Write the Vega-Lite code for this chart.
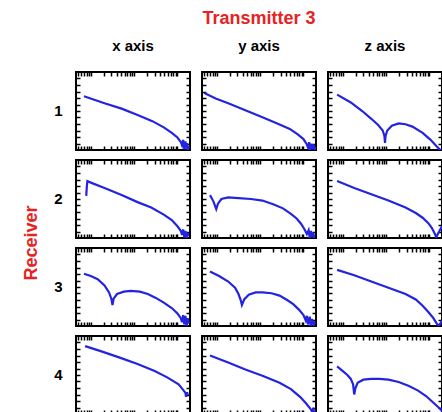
{
  "$schema": "https://vega.github.io/schema/vega-lite/v6.json",
  "background": "white",
  "padding": {"left": 22, "top": 10, "right": 0, "bottom": 0},
  "datasets": {
    "curves": [
      {"r":1,"c":"x axis","i":1,"x":0.07,"y":0.69},{"r":1,"c":"x axis","i":2,"x":0.25,"y":0.60},{"r":1,"c":"x axis","i":3,"x":0.40,"y":0.53},{"r":1,"c":"x axis","i":4,"x":0.54,"y":0.45},{"r":1,"c":"x axis","i":5,"x":0.67,"y":0.37},{"r":1,"c":"x axis","i":6,"x":0.77,"y":0.29},{"r":1,"c":"x axis","i":7,"x":0.84,"y":0.22},{"r":1,"c":"x axis","i":8,"x":0.89,"y":0.16},{"r":1,"c":"x axis","i":9,"x":0.92,"y":0.10},{"r":1,"c":"x axis","i":10,"x":0.93,"y":0.06},{"r":1,"c":"x axis","i":11,"x":0.94,"y":0.13},{"r":1,"c":"x axis","i":12,"x":0.95,"y":0.01},{"r":1,"c":"x axis","i":13,"x":0.96,"y":0.11},{"r":1,"c":"x axis","i":14,"x":0.965,"y":0.02},{"r":1,"c":"x axis","i":15,"x":0.975,"y":0.09},{"r":1,"c":"x axis","i":16,"x":0.98,"y":0.0},{"r":1,"c":"x axis","i":17,"x":0.99,"y":0.05},

      {"r":1,"c":"y axis","i":1,"x":0.02,"y":0.73},{"r":1,"c":"y axis","i":2,"x":0.12,"y":0.66},{"r":1,"c":"y axis","i":3,"x":0.23,"y":0.60},{"r":1,"c":"y axis","i":4,"x":0.38,"y":0.51},{"r":1,"c":"y axis","i":5,"x":0.53,"y":0.42},{"r":1,"c":"y axis","i":6,"x":0.66,"y":0.34},{"r":1,"c":"y axis","i":7,"x":0.77,"y":0.27},{"r":1,"c":"y axis","i":8,"x":0.84,"y":0.20},{"r":1,"c":"y axis","i":9,"x":0.89,"y":0.14},{"r":1,"c":"y axis","i":10,"x":0.92,"y":0.07},{"r":1,"c":"y axis","i":11,"x":0.93,"y":0.03},{"r":1,"c":"y axis","i":12,"x":0.94,"y":0.10},{"r":1,"c":"y axis","i":13,"x":0.95,"y":0.0},{"r":1,"c":"y axis","i":14,"x":0.96,"y":0.08},{"r":1,"c":"y axis","i":15,"x":0.97,"y":0.01},{"r":1,"c":"y axis","i":16,"x":0.98,"y":0.07},{"r":1,"c":"y axis","i":17,"x":0.99,"y":0.0},{"r":1,"c":"y axis","i":18,"x":1.0,"y":0.04},

      {"r":1,"c":"z axis","i":1,"x":0.08,"y":0.71},{"r":1,"c":"z axis","i":2,"x":0.20,"y":0.61},{"r":1,"c":"z axis","i":3,"x":0.30,"y":0.50},{"r":1,"c":"z axis","i":4,"x":0.38,"y":0.40},{"r":1,"c":"z axis","i":5,"x":0.44,"y":0.32},{"r":1,"c":"z axis","i":6,"x":0.48,"y":0.25},{"r":1,"c":"z axis","i":7,"x":0.495,"y":0.18},{"r":1,"c":"z axis","i":8,"x":0.50,"y":0.09},{"r":1,"c":"z axis","i":9,"x":0.505,"y":0.18},{"r":1,"c":"z axis","i":10,"x":0.52,"y":0.25},{"r":1,"c":"z axis","i":11,"x":0.56,"y":0.31},{"r":1,"c":"z axis","i":12,"x":0.62,"y":0.34},{"r":1,"c":"z axis","i":13,"x":0.68,"y":0.33},{"r":1,"c":"z axis","i":14,"x":0.74,"y":0.30},{"r":1,"c":"z axis","i":15,"x":0.83,"y":0.22},{"r":1,"c":"z axis","i":16,"x":0.90,"y":0.13},{"r":1,"c":"z axis","i":17,"x":0.95,"y":0.05},{"r":1,"c":"z axis","i":18,"x":1.0,"y":-0.02},

      {"r":2,"c":"x axis","i":1,"x":0.09,"y":0.54},{"r":2,"c":"x axis","i":2,"x":0.095,"y":0.66},{"r":2,"c":"x axis","i":3,"x":0.10,"y":0.73},{"r":2,"c":"x axis","i":4,"x":0.13,"y":0.71},{"r":2,"c":"x axis","i":5,"x":0.25,"y":0.64},{"r":2,"c":"x axis","i":6,"x":0.40,"y":0.55},{"r":2,"c":"x axis","i":7,"x":0.54,"y":0.46},{"r":2,"c":"x axis","i":8,"x":0.66,"y":0.39},{"r":2,"c":"x axis","i":9,"x":0.77,"y":0.30},{"r":2,"c":"x axis","i":10,"x":0.84,"y":0.23},{"r":2,"c":"x axis","i":11,"x":0.89,"y":0.15},{"r":2,"c":"x axis","i":12,"x":0.92,"y":0.09},{"r":2,"c":"x axis","i":13,"x":0.93,"y":0.04},{"r":2,"c":"x axis","i":14,"x":0.94,"y":0.11},{"r":2,"c":"x axis","i":15,"x":0.95,"y":0.01},{"r":2,"c":"x axis","i":16,"x":0.96,"y":0.09},{"r":2,"c":"x axis","i":17,"x":0.97,"y":0.0},{"r":2,"c":"x axis","i":18,"x":0.98,"y":0.07},{"r":2,"c":"x axis","i":19,"x":0.985,"y":0.02},

      {"r":2,"c":"y axis","i":1,"x":0.07,"y":0.55},{"r":2,"c":"y axis","i":2,"x":0.10,"y":0.47},{"r":2,"c":"y axis","i":3,"x":0.125,"y":0.37},{"r":2,"c":"y axis","i":4,"x":0.14,"y":0.44},{"r":2,"c":"y axis","i":5,"x":0.17,"y":0.50},{"r":2,"c":"y axis","i":6,"x":0.23,"y":0.52},{"r":2,"c":"y axis","i":7,"x":0.32,"y":0.51},{"r":2,"c":"y axis","i":8,"x":0.43,"y":0.50},{"r":2,"c":"y axis","i":9,"x":0.53,"y":0.48},{"r":2,"c":"y axis","i":10,"x":0.63,"y":0.43},{"r":2,"c":"y axis","i":11,"x":0.71,"y":0.38},{"r":2,"c":"y axis","i":12,"x":0.78,"y":0.31},{"r":2,"c":"y axis","i":13,"x":0.83,"y":0.25},{"r":2,"c":"y axis","i":14,"x":0.87,"y":0.18},{"r":2,"c":"y axis","i":15,"x":0.90,"y":0.11},{"r":2,"c":"y axis","i":16,"x":0.92,"y":0.05},{"r":2,"c":"y axis","i":17,"x":0.935,"y":0.10},{"r":2,"c":"y axis","i":18,"x":0.945,"y":0.0},{"r":2,"c":"y axis","i":19,"x":0.955,"y":0.09},{"r":2,"c":"y axis","i":20,"x":0.965,"y":0.01},{"r":2,"c":"y axis","i":21,"x":0.975,"y":0.07},{"r":2,"c":"y axis","i":22,"x":0.985,"y":0.0},

      {"r":2,"c":"z axis","i":1,"x":0.08,"y":0.73},{"r":2,"c":"z axis","i":2,"x":0.23,"y":0.64},{"r":2,"c":"z axis","i":3,"x":0.38,"y":0.56},{"r":2,"c":"z axis","i":4,"x":0.53,"y":0.48},{"r":2,"c":"z axis","i":5,"x":0.68,"y":0.39},{"r":2,"c":"z axis","i":6,"x":0.77,"y":0.32},{"r":2,"c":"z axis","i":7,"x":0.83,"y":0.26},{"r":2,"c":"z axis","i":8,"x":0.88,"y":0.19},{"r":2,"c":"z axis","i":9,"x":0.91,"y":0.13},{"r":2,"c":"z axis","i":10,"x":0.935,"y":0.06},{"r":2,"c":"z axis","i":11,"x":0.95,"y":0.01},{"r":2,"c":"z axis","i":12,"x":0.97,"y":0.07},{"r":2,"c":"z axis","i":13,"x":1.0,"y":0.15},

      {"r":3,"c":"x axis","i":1,"x":0.07,"y":0.67},{"r":3,"c":"x axis","i":2,"x":0.13,"y":0.64},{"r":3,"c":"x axis","i":3,"x":0.19,"y":0.60},{"r":3,"c":"x axis","i":4,"x":0.25,"y":0.52},{"r":3,"c":"x axis","i":5,"x":0.29,"y":0.43},{"r":3,"c":"x axis","i":6,"x":0.31,"y":0.35},{"r":3,"c":"x axis","i":7,"x":0.32,"y":0.27},{"r":3,"c":"x axis","i":8,"x":0.33,"y":0.35},{"r":3,"c":"x axis","i":9,"x":0.36,"y":0.41},{"r":3,"c":"x axis","i":10,"x":0.42,"y":0.44},{"r":3,"c":"x axis","i":11,"x":0.48,"y":0.45},{"r":3,"c":"x axis","i":12,"x":0.56,"y":0.44},{"r":3,"c":"x axis","i":13,"x":0.63,"y":0.41},{"r":3,"c":"x axis","i":14,"x":0.70,"y":0.36},{"r":3,"c":"x axis","i":15,"x":0.77,"y":0.30},{"r":3,"c":"x axis","i":16,"x":0.84,"y":0.23},{"r":3,"c":"x axis","i":17,"x":0.89,"y":0.16},{"r":3,"c":"x axis","i":18,"x":0.92,"y":0.10},{"r":3,"c":"x axis","i":19,"x":0.93,"y":0.05},{"r":3,"c":"x axis","i":20,"x":0.94,"y":0.14},{"r":3,"c":"x axis","i":21,"x":0.95,"y":0.02},{"r":3,"c":"x axis","i":22,"x":0.96,"y":0.13},{"r":3,"c":"x axis","i":23,"x":0.97,"y":0.0},{"r":3,"c":"x axis","i":24,"x":0.98,"y":0.10},{"r":3,"c":"x axis","i":25,"x":0.99,"y":0.03},

      {"r":3,"c":"y axis","i":1,"x":0.07,"y":0.70},{"r":3,"c":"y axis","i":2,"x":0.15,"y":0.64},{"r":3,"c":"y axis","i":3,"x":0.23,"y":0.57},{"r":3,"c":"y axis","i":4,"x":0.29,"y":0.49},{"r":3,"c":"y axis","i":5,"x":0.32,"y":0.41},{"r":3,"c":"y axis","i":6,"x":0.34,"y":0.33},{"r":3,"c":"y axis","i":7,"x":0.35,"y":0.27},{"r":3,"c":"y axis","i":8,"x":0.37,"y":0.34},{"r":3,"c":"y axis","i":9,"x":0.41,"y":0.40},{"r":3,"c":"y axis","i":10,"x":0.47,"y":0.43},{"r":3,"c":"y axis","i":11,"x":0.53,"y":0.43},{"r":3,"c":"y axis","i":12,"x":0.61,"y":0.42},{"r":3,"c":"y axis","i":13,"x":0.68,"y":0.39},{"r":3,"c":"y axis","i":14,"x":0.75,"y":0.33},{"r":3,"c":"y axis","i":15,"x":0.80,"y":0.28},{"r":3,"c":"y axis","i":16,"x":0.85,"y":0.21},{"r":3,"c":"y axis","i":17,"x":0.89,"y":0.14},{"r":3,"c":"y axis","i":18,"x":0.91,"y":0.07},{"r":3,"c":"y axis","i":19,"x":0.92,"y":0.13},{"r":3,"c":"y axis","i":20,"x":0.93,"y":0.02},{"r":3,"c":"y axis","i":21,"x":0.945,"y":0.12},{"r":3,"c":"y axis","i":22,"x":0.955,"y":0.0},{"r":3,"c":"y axis","i":23,"x":0.965,"y":0.09},{"r":3,"c":"y axis","i":24,"x":0.98,"y":0.01},{"r":3,"c":"y axis","i":25,"x":0.99,"y":0.06},

      {"r":3,"c":"z axis","i":1,"x":0.08,"y":0.72},{"r":3,"c":"z axis","i":2,"x":0.23,"y":0.65},{"r":3,"c":"z axis","i":3,"x":0.38,"y":0.57},{"r":3,"c":"z axis","i":4,"x":0.53,"y":0.49},{"r":3,"c":"z axis","i":5,"x":0.68,"y":0.41},{"r":3,"c":"z axis","i":6,"x":0.77,"y":0.34},{"r":3,"c":"z axis","i":7,"x":0.83,"y":0.26},{"r":3,"c":"z axis","i":8,"x":0.88,"y":0.18},{"r":3,"c":"z axis","i":9,"x":0.92,"y":0.11},{"r":3,"c":"z axis","i":10,"x":0.95,"y":0.04},{"r":3,"c":"z axis","i":11,"x":0.97,"y":0.0},{"r":3,"c":"z axis","i":12,"x":0.985,"y":0.03},{"r":3,"c":"z axis","i":13,"x":1.0,"y":0.07},

      {"r":4,"c":"x axis","i":1,"x":0.08,"y":0.87},{"r":4,"c":"x axis","i":2,"x":0.23,"y":0.80},{"r":4,"c":"x axis","i":3,"x":0.39,"y":0.72},{"r":4,"c":"x axis","i":4,"x":0.54,"y":0.64},{"r":4,"c":"x axis","i":5,"x":0.69,"y":0.55},{"r":4,"c":"x axis","i":6,"x":0.80,"y":0.47},{"r":4,"c":"x axis","i":7,"x":0.90,"y":0.38},{"r":4,"c":"x axis","i":8,"x":0.94,"y":0.31},{"r":4,"c":"x axis","i":9,"x":0.96,"y":0.27},{"r":4,"c":"x axis","i":10,"x":0.965,"y":0.22},{"r":4,"c":"x axis","i":11,"x":0.975,"y":0.28},{"r":4,"c":"x axis","i":12,"x":0.98,"y":0.24},

      {"r":4,"c":"y axis","i":1,"x":0.07,"y":0.75},{"r":4,"c":"y axis","i":2,"x":0.23,"y":0.66},{"r":4,"c":"y axis","i":3,"x":0.38,"y":0.57},{"r":4,"c":"y axis","i":4,"x":0.53,"y":0.49},{"r":4,"c":"y axis","i":5,"x":0.68,"y":0.40},{"r":4,"c":"y axis","i":6,"x":0.78,"y":0.32},{"r":4,"c":"y axis","i":7,"x":0.86,"y":0.22},{"r":4,"c":"y axis","i":8,"x":0.91,"y":0.14},{"r":4,"c":"y axis","i":9,"x":0.95,"y":0.07},{"r":4,"c":"y axis","i":10,"x":0.97,"y":0.02},{"r":4,"c":"y axis","i":11,"x":0.975,"y":0.08},{"r":4,"c":"y axis","i":12,"x":0.985,"y":0.0},{"r":4,"c":"y axis","i":13,"x":0.99,"y":0.05},

      {"r":4,"c":"z axis","i":1,"x":0.08,"y":0.61},{"r":4,"c":"z axis","i":2,"x":0.13,"y":0.55},{"r":4,"c":"z axis","i":3,"x":0.17,"y":0.50},{"r":4,"c":"z axis","i":4,"x":0.20,"y":0.45},{"r":4,"c":"z axis","i":5,"x":0.22,"y":0.38},{"r":4,"c":"z axis","i":6,"x":0.23,"y":0.25},{"r":4,"c":"z axis","i":7,"x":0.24,"y":0.33},{"r":4,"c":"z axis","i":8,"x":0.26,"y":0.40},{"r":4,"c":"z axis","i":9,"x":0.31,"y":0.44},{"r":4,"c":"z axis","i":10,"x":0.38,"y":0.45},{"r":4,"c":"z axis","i":11,"x":0.45,"y":0.45},{"r":4,"c":"z axis","i":12,"x":0.53,"y":0.44},{"r":4,"c":"z axis","i":13,"x":0.62,"y":0.41},{"r":4,"c":"z axis","i":14,"x":0.71,"y":0.36},{"r":4,"c":"z axis","i":15,"x":0.79,"y":0.30},{"r":4,"c":"z axis","i":16,"x":0.86,"y":0.23},{"r":4,"c":"z axis","i":17,"x":0.92,"y":0.15},{"r":4,"c":"z axis","i":18,"x":0.98,"y":0.07},{"r":4,"c":"z axis","i":19,"x":1.0,"y":0.04}
    ]
  },
  "data": {"name": "curves"},
  "facet": {
    "row": {
      "field": "r", "type": "ordinal",
      "header": {
        "title": "Receiver", "titleColor": "#e62222", "titleFontSize": 18, "titleFontWeight": "bold", "titleFont": "Liberation Sans", "titlePadding": 3,
        "labelAngle": 0, "labelFontSize": 15, "labelFontWeight": "bold", "labelFont": "Liberation Sans", "labelColor": "black", "labelPadding": 3
      }
    },
    "column": {
      "field": "c", "type": "nominal", "sort": ["x axis", "y axis", "z axis"],
      "header": {
        "title": "Transmitter 3", "titleColor": "#e62222", "titleFontSize": 18, "titleFontWeight": "bold", "titleFont": "Liberation Sans", "titlePadding": 1,
        "labelFontSize": 15, "labelFontWeight": "bold", "labelFont": "Liberation Sans", "labelColor": "black", "labelPadding": 16
      }
    }
  },
  "spacing": {"row": 6, "column": 8},
  "resolve": {"scale": {"x": "independent", "y": "independent"}},
  "spec": {
    "width": 114,
    "height": 78,
    "layer": [
      {
        "mark": {"type": "line", "color": "#2424e0", "strokeWidth": 2.2, "clip": true},
        "encoding": {
          "x": {"field": "x", "type": "quantitative", "scale": {"domain": [0, 1]},
                "axis": {"orient": "bottom", "values": [0.016,0.046,0.071,0.093,0.113,0.13,0.244,0.311,0.359,0.396,0.426,0.451,0.473,0.493,0.51,0.624,0.691,0.739,0.776,0.806,0.831,0.853,0.873,0.89]}},
          "y": {"field": "y", "type": "quantitative", "scale": {"domain": [0, 1]},
                "axis": {"orient": "left", "values": [0.083,0.167,0.25,0.333,0.417,0.5,0.583,0.667,0.75,0.833,0.917]}},
          "order": {"field": "i", "type": "quantitative"}
        }
      },
      {
        "mark": {"type": "line", "strokeOpacity": 0, "clip": true},
        "encoding": {
          "x": {"field": "x", "type": "quantitative", "scale": {"domain": [0, 1]},
                "axis": {"orient": "top", "values": [0.016,0.046,0.071,0.093,0.113,0.13,0.244,0.311,0.359,0.396,0.426,0.451,0.473,0.493,0.51,0.624,0.691,0.739,0.776,0.806,0.831,0.853,0.873,0.89]}},
          "y": {"field": "y", "type": "quantitative", "scale": {"domain": [0, 1]},
                "axis": {"orient": "right", "values": [0.083,0.167,0.25,0.333,0.417,0.5,0.583,0.667,0.75,0.833,0.917]}},
          "order": {"field": "i", "type": "quantitative"}
        }
      }
    ],
    "resolve": {"axis": {"x": "independent", "y": "independent"}}
  },
  "config": {
    "view": {"stroke": "black", "strokeWidth": 2},
    "axis": {"labels": false, "title": null, "domain": false, "grid": false, "ticks": true, "tickColor": "black", "tickWidth": 1.5, "tickSize": -4}
  }
}
